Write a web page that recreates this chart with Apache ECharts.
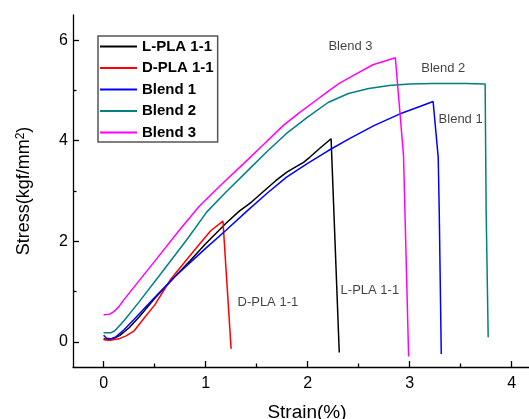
<!DOCTYPE html>
<html>
<head>
<meta charset="utf-8">
<script src="https://cdn.jsdelivr.net/npm/echarts@6/dist/echarts.min.js"></script>
<style>
  html, body { margin: 0; padding: 0; background: #fff; }
  #chart { width: 529px; height: 419px; }
</style>
</head>
<body>
<div id="chart"></div>
<script>
// stress-strain curves, [strain %, stress kgf/mm2]
var lpla = [[0,0.06],[0.05,0.04],[0.1,0.07],[0.16,0.13],[0.25,0.28],[0.35,0.5],[0.5,0.86],[0.7,1.3],[0.85,1.62],[1.0,1.95],[1.2,2.36],[1.33,2.6],[1.45,2.78],[1.6,3.05],[1.69,3.21],[1.8,3.38],[1.9,3.5],[1.96,3.57],[2.02,3.67],[2.12,3.85],[2.23,4.04],[2.31,-0.21]];
var dpla = [[0,0.04],[0.06,0.03],[0.15,0.06],[0.22,0.12],[0.3,0.22],[0.4,0.48],[0.5,0.73],[0.66,1.25],[0.89,1.82],[1.05,2.21],[1.17,2.4],[1.25,-0.14]];
var blend1 = [[0,0.13],[0.03,0.07],[0.07,0.06],[0.12,0.1],[0.2,0.24],[0.3,0.45],[0.5,0.88],[0.7,1.3],[0.85,1.58],[1.0,1.86],[1.2,2.22],[1.41,2.61],[1.6,2.95],[1.79,3.27],[2.0,3.55],[2.2,3.8],[2.41,4.04],[2.65,4.3],[2.9,4.53],[3.1,4.68],[3.23,4.78],[3.28,3.67],[3.29,2.61],[3.31,-0.24]];
var blend2 = [[0,0.18],[0.07,0.18],[0.11,0.22],[0.2,0.42],[0.35,0.8],[0.57,1.38],[0.83,2.07],[1.01,2.58],[1.2,2.98],[1.43,3.44],[1.6,3.78],[1.79,4.14],[2.0,4.47],[2.2,4.76],[2.4,4.94],[2.6,5.04],[2.8,5.1],[3.0,5.13],[3.23,5.14],[3.55,5.14],[3.74,5.13],[3.75,2.6],[3.77,0.09]];
var blend3 = [[0,0.54],[0.06,0.55],[0.1,0.6],[0.15,0.7],[0.2,0.84],[0.5,1.6],[0.75,2.24],[0.94,2.7],[1.15,3.12],[1.37,3.54],[1.55,3.89],[1.76,4.3],[1.92,4.56],[2.08,4.8],[2.2,4.98],[2.31,5.14],[2.45,5.3],[2.64,5.51],[2.75,5.58],[2.86,5.65],[2.94,3.7],[2.99,-0.29]];

var seriesNames = ['L-PLA 1-1', 'D-PLA 1-1', 'Blend 1', 'Blend 2', 'Blend 3'];
var seriesColors = ['#000000', '#ff0000', '#0000ff', '#008080', '#ff00ff'];
var seriesData = [lpla, dpla, blend1, blend2, blend3];

// curve labels written on the plot
var noteTexts = ['Blend 3', 'Blend 2', 'Blend 1', 'L-PLA 1-1', 'D-PLA 1-1'];
var notePos = [[2.42, 5.87], [3.33, 5.44], [3.5, 4.42], [2.61, 1.02], [1.61, 0.79]];

var xTicks = [0, 1, 2, 3, 4];
var xMinor = [0.5, 1.5, 2.5, 3.5];
var yTicks = [0, 2, 4, 6];
var yMinor = [1, 3, 5];

var myChart = echarts.init(document.getElementById('chart'));

var series = seriesData.map(function (d, i) {
  return {
    name: seriesNames[i],
    type: 'line',
    data: d,
    symbol: 'none',
    smooth: false,
    lineStyle: { color: seriesColors[i], width: 1.5 },
    itemStyle: { color: seriesColors[i] },
    animation: false
  };
});
series.push({
  type: 'scatter',
  symbolSize: 0,
  silent: true,
  animation: false,
  data: noteTexts.map(function (t, i) { return { name: t, value: notePos[i] }; }),
  label: {
    show: true,
    position: 'inside',
    formatter: '{b}',
    fontFamily: 'Liberation Sans, Arial',
    fontSize: 13,
    color: '#111'
  }
});

var axisFont = 'Liberation Sans, Arial';

var option = {
  backgroundColor: '#fff',
  animation: false,
  grid: { left: 73, right: 0, top: 15, bottom: 52, containLabel: false, outerBoundsMode: 'none' },
  legend: {
    data: seriesNames,
    orient: 'vertical',
    left: 98,
    top: 36,
    itemWidth: 37,
    itemHeight: 14,
    itemGap: 6.5,
    padding: [3, 4, 2, 1],
    borderColor: '#555',
    borderWidth: 1.5,
    itemStyle: { opacity: 0 },
    textStyle: { fontFamily: axisFont, fontSize: 15, fontWeight: 'bold', color: '#000' }
  },
  xAxis: [
    {
      type: 'value',
      min: -0.3,
      max: 4.17,
      name: 'Strain(%)',
      nameLocation: 'middle',
      nameGap: 36,
      nameTextStyle: { fontFamily: axisFont, fontSize: 19, color: '#000', padding: [0, 0, 0, 12] },
      axisLine: { show: true, onZero: false, lineStyle: { color: '#000', width: 1.3 } },
      axisTick: { show: true, inside: true, length: 6, customValues: xTicks, lineStyle: { color: '#000', width: 1.3 } },
      axisLabel: { customValues: xTicks, fontFamily: axisFont, fontSize: 16, color: '#000', margin: 9 },
      splitLine: { show: false }
    },
    {
      type: 'value',
      min: -0.3,
      max: 4.17,
      position: 'bottom',
      axisLine: { show: false, onZero: false },
      axisTick: { show: true, inside: true, length: 3.5, customValues: xMinor, lineStyle: { color: '#000', width: 1.3 } },
      axisLabel: { show: false },
      splitLine: { show: false }
    }
  ],
  yAxis: [
    {
      type: 'value',
      min: -0.5,
      max: 6.5,
      name: '{a|Stress(kgf/mm}{s|2}{a|)}',
      nameLocation: 'middle',
      nameGap: 40,
      nameTextStyle: {
        fontFamily: axisFont,
        fontSize: 18,
        color: '#000',
        rich: {
          a: { fontFamily: axisFont, fontSize: 18, color: '#000' },
          s: { fontFamily: axisFont, fontSize: 12, color: '#000', verticalAlign: 'top' }
        }
      },
      axisLine: { show: true, onZero: false, lineStyle: { color: '#000', width: 1.3 } },
      axisTick: { show: true, inside: true, length: 6, customValues: yTicks, lineStyle: { color: '#000', width: 1.3 } },
      axisLabel: { customValues: yTicks, fontFamily: axisFont, fontSize: 16, color: '#000', margin: 5 },
      splitLine: { show: false }
    },
    {
      type: 'value',
      min: -0.5,
      max: 6.5,
      position: 'left',
      axisLine: { show: false, onZero: false },
      axisTick: { show: true, inside: true, length: 3.5, customValues: yMinor, lineStyle: { color: '#000', width: 1.3 } },
      axisLabel: { show: false },
      splitLine: { show: false }
    }
  ],
  series: series
};

myChart.setOption(option);
</script>
</body>
</html>
